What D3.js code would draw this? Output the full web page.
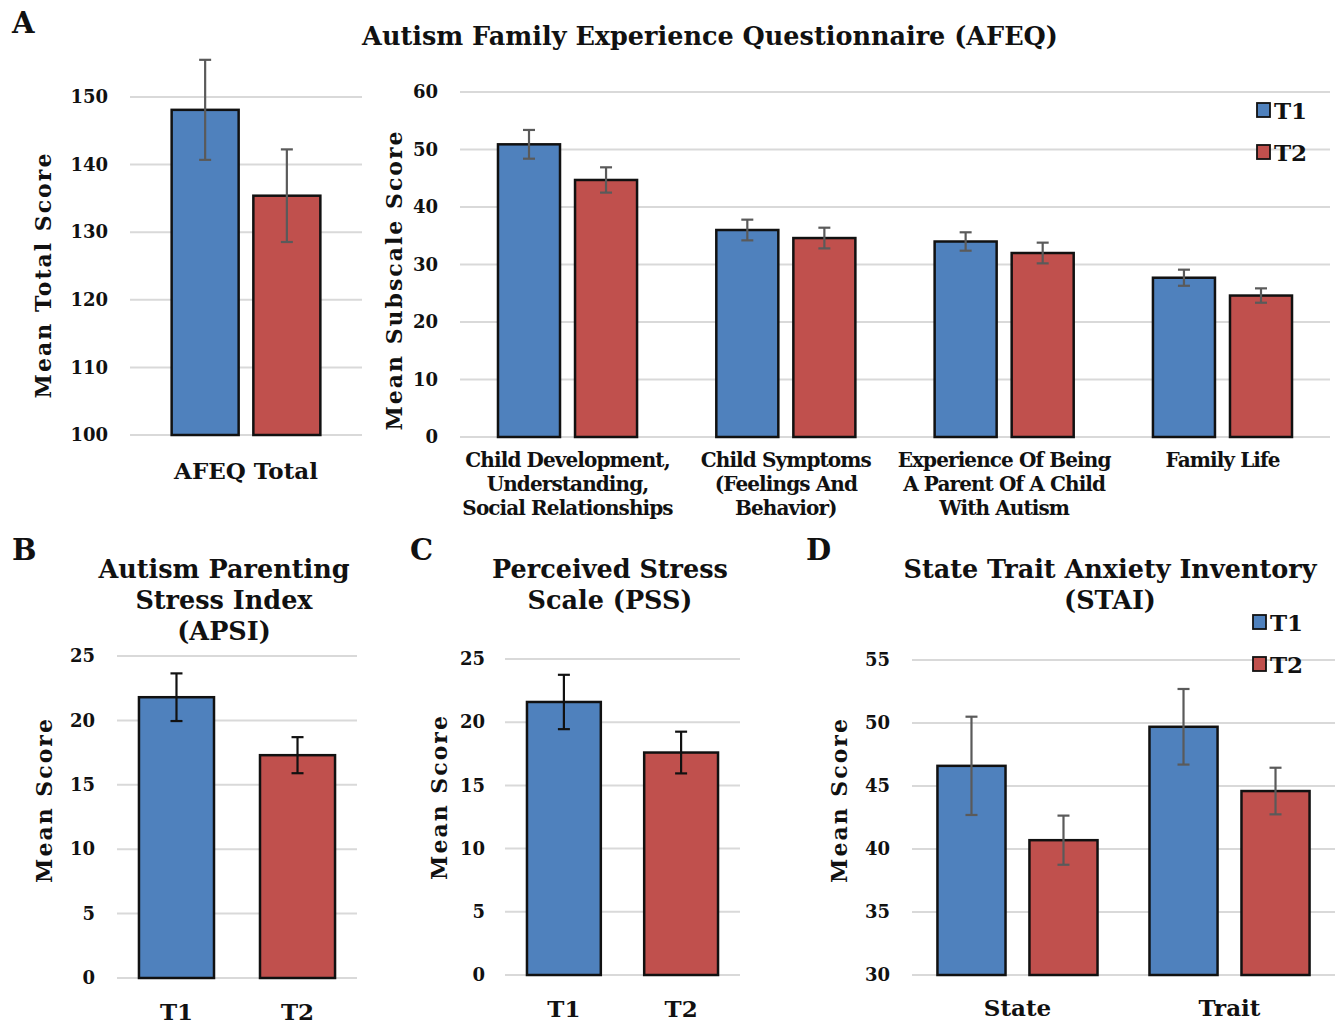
<!DOCTYPE html>
<html>
<head>
<meta charset="utf-8">
<title>AFEQ / APSI / PSS / STAI</title>
<script src="https://d3js.org/d3.v7.min.js"></script>
<style>
  body { margin: 0; background: #fff; }
  svg text { font-family: "DejaVu Serif", "Liberation Serif", serif; font-weight: bold; fill: #111; }
</style>
</head>
<body>
<div id="container"></div>
<script>
// ---------------- DATA ----------------
var series = ["T1", "T2"];

var afeqTotalCats = ["AFEQ Total"];
var afeqTotalT1 = [148.1], afeqTotalT1Err = [7.4];
var afeqTotalT2 = [135.4], afeqTotalT2Err = [6.85];
var afeqTotalTicks = [100, 110, 120, 130, 140, 150];

var afeqSubCats = [
  ["Child Development,", "Understanding,", "Social Relationships"],
  ["Child Symptoms", "(Feelings And", "Behavior)"],
  ["Experience Of Being", "A Parent Of A Child", "With Autism"],
  ["Family Life"]
];
var afeqSubT1 = [50.9, 36.0, 34.0, 27.7], afeqSubT1Err = [2.5, 1.8, 1.6, 1.4];
var afeqSubT2 = [44.7, 34.6, 32.0, 24.6], afeqSubT2Err = [2.2, 1.8, 1.8, 1.25];
var afeqSubTicks = [0, 10, 20, 30, 40, 50, 60];

var apsiValues = [21.8, 17.3], apsiErr = [1.85, 1.4];
var pssValues = [21.6, 17.6], pssErr = [2.15, 1.65];
var smallTicks = [0, 5, 10, 15, 20, 25];

var staiCats = ["State", "Trait"];
var staiT1 = [46.6, 49.7], staiT1Err = [3.9, 3.0];
var staiT2 = [40.7, 44.6], staiT2Err = [1.95, 1.85];
var staiTicks = [30, 35, 40, 45, 50, 55];

var colors = { T1: "#4f81bd", T2: "#c0504d" };

// ---------------- SVG ----------------
var svg = d3.select("#container").append("svg")
  .attr("width", 1335).attr("height", 1026);

function panel(opt) {
  var g = svg.append("g");
  var y = d3.scaleLinear().domain(opt.yDomain).range(opt.yRange);
  var x0 = d3.scaleBand().domain(d3.range(opt.groups))
    .range(opt.xRange).paddingInner(opt.padIn).paddingOuter(opt.padOut);
  var x1 = d3.scaleBand().domain(series).range([0, x0.bandwidth()]).paddingInner(opt.barPad);

  // gridlines
  g.append("g").selectAll("line").data(opt.ticks).enter().append("line")
    .attr("x1", opt.xRange[0]).attr("x2", opt.xRange[1])
    .attr("y1", function (d) { return y(d); }).attr("y2", function (d) { return y(d); })
    .attr("stroke", "#d9d9d9").attr("stroke-width", 2);

  // y axis labels
  var ax = d3.axisLeft(y).tickValues(opt.ticks).tickSize(0).tickPadding(opt.tickPad || 22);
  var axg = g.append("g").attr("transform", "translate(" + opt.xRange[0] + ",0)").call(ax);
  axg.select(".domain").remove();
  axg.selectAll("text").style("font-size", "18px").style("font-family", null);

  // bars
  g.append("g").selectAll("rect").data(opt.rows).enter().append("rect")
    .attr("x", function (d) { return x0(d.i) + x1(d.key); })
    .attr("width", x1.bandwidth())
    .attr("y", function (d) { return y(d.value); })
    .attr("height", function (d) { return y(opt.yDomain[0]) - y(d.value); })
    .attr("fill", function (d) { return colors[d.key]; })
    .attr("stroke", "#111").attr("stroke-width", 2.5);

  // error bars
  var eb = g.append("g").attr("stroke", opt.errColor).attr("stroke-width", 2.2)
    .selectAll("g").data(opt.rows).enter().append("g");
  function cx(d) { return x0(d.i) + x1(d.key) + x1.bandwidth() / 2; }
  eb.append("line")
    .attr("x1", cx).attr("x2", cx)
    .attr("y1", function (d) { return y(d.value - d.err); })
    .attr("y2", function (d) { return y(d.value + d.err); });
  [1, -1].forEach(function (s) {
    eb.append("line")
      .attr("x1", function (d) { return cx(d) - 6; })
      .attr("x2", function (d) { return cx(d) + 6; })
      .attr("y1", function (d) { return y(d.value + s * d.err); })
      .attr("y2", function (d) { return y(d.value + s * d.err); });
  });

  // x labels: per group, or per bar for single-group panels
  if (opt.cats) {
    var lab = g.append("g").selectAll("text").data(opt.cats).enter().append("text")
      .attr("text-anchor", "middle")
      .style("font-size", opt.catSize + "px")
      .style("letter-spacing", opt.catSpacing || "0px");
    lab.each(function (d, i) {
      var lines = Array.isArray(d) ? d : [d];
      var t = d3.select(this);
      lines.forEach(function (l, k) {
        t.append("tspan")
          .attr("x", x0(i) + x0.bandwidth() / 2)
          .attr("y", opt.catY + k * opt.catLine)
          .text(l);
      });
    });
  } else {
    g.append("g").selectAll("text").data(series).enter().append("text")
      .attr("text-anchor", "middle")
      .attr("x", function (s) { return x0(0) + x1(s) + x1.bandwidth() / 2; })
      .attr("y", opt.catY)
      .style("font-size", opt.catSize + "px")
      .text(function (s) { return s; });
  }

  // y title
  g.append("text")
    .attr("transform", "translate(" + opt.yTitleX + "," + opt.yTitleY + ") rotate(-90)")
    .attr("text-anchor", "middle")
    .style("font-size", "22px")
    .style("letter-spacing", "2px")
    .text(opt.yTitle);
}

function rowsPaired(t1, t1e, t2, t2e) {
  var r = [];
  t1.forEach(function (v, i) {
    r.push({ i: i, key: "T1", value: v, err: t1e[i] });
    r.push({ i: i, key: "T2", value: t2[i], err: t2e[i] });
  });
  return r;
}
function rowsSingle(vals, errs) {
  return vals.map(function (v, i) { return { i: 0, key: series[i], value: v, err: errs[i] }; });
}

function legend(x, y0, dy) {
  var lg = svg.append("g");
  series.forEach(function (s, i) {
    lg.append("rect").attr("x", x).attr("y", y0 + i * dy - 7).attr("width", 13).attr("height", 14)
      .attr("fill", colors[s]).attr("stroke", "#111").attr("stroke-width", 1.8);
    lg.append("text").attr("x", x + 17).attr("y", y0 + i * dy + 9)
      .style("font-size", "23px").text(s);
  });
}

function textLines(lines, x, y, dy, size) {
  var t = svg.append("text").attr("text-anchor", "middle").style("font-size", size + "px");
  lines.forEach(function (l, k) {
    t.append("tspan").attr("x", x).attr("y", y + k * dy).text(l);
  });
}

// ---------------- PANEL A (total) ----------------
panel({
  groups: 1, cats: afeqTotalCats,
  rows: rowsPaired(afeqTotalT1, afeqTotalT1Err, afeqTotalT2, afeqTotalT2Err),
  yDomain: [100, 150], yRange: [435, 97], ticks: afeqTotalTicks,
  xRange: [130, 362], padIn: 0, padOut: 0.28, barPad: 0.18,
  errColor: "#5a5a5a", catSize: 23, catY: 479, catLine: 0,
  yTitle: "Mean Total Score", yTitleX: 51, yTitleY: 275
});

// ---------------- PANEL A (subscales) ----------------
panel({
  groups: 4, cats: afeqSubCats,
  rows: rowsPaired(afeqSubT1, afeqSubT1Err, afeqSubT2, afeqSubT2Err),
  yDomain: [0, 60], yRange: [437, 92], ticks: afeqSubTicks,
  xRange: [460, 1330], padIn: 0.363, padOut: 0.174, barPad: 0.195,
  errColor: "#5a5a5a", catSize: 20, catSpacing: "-0.9px", catY: 467, catLine: 24,
  yTitle: "Mean Subscale Score", yTitleX: 402, yTitleY: 280
});
textLines(["Autism Family Experience Questionnaire (AFEQ)"], 710, 45, 0, 25.5);
legend(1257, 110, 42);

// ---------------- PANEL B ----------------
panel({
  groups: 1, cats: null,
  rows: rowsSingle(apsiValues, apsiErr),
  yDomain: [0, 25], yRange: [978, 656], ticks: smallTicks,
  xRange: [117, 357], padIn: 0, padOut: 0.112, barPad: 0.38,
  errColor: "#111", catSize: 23, catY: 1020,
  yTitle: "Mean Score", yTitleX: 52, yTitleY: 800
});
textLines(["Autism Parenting", "Stress Index", "(APSI)"], 224, 578, 31, 25.5);

// ---------------- PANEL C ----------------
panel({
  groups: 1, cats: null,
  rows: rowsSingle(pssValues, pssErr),
  yDomain: [0, 25], yRange: [975, 659], ticks: smallTicks,
  xRange: [505, 740], padIn: 0, padOut: 0.115, barPad: 0.37,
  errColor: "#111", catSize: 23, catY: 1017, tickPad: 20,
  yTitle: "Mean Score", yTitleX: 447, yTitleY: 797
});
textLines(["Perceived Stress", "Scale (PSS)"], 610, 578, 31, 25.5);

// ---------------- PANEL D ----------------
panel({
  groups: 2, cats: staiCats,
  rows: rowsPaired(staiT1, staiT1Err, staiT2, staiT2Err),
  yDomain: [30, 55], yRange: [975, 660], ticks: staiTicks,
  xRange: [912, 1335], padIn: 0.245, padOut: 0.12, barPad: 0.26,
  errColor: "#5a5a5a", catSize: 23, catY: 1016, catLine: 0,
  yTitle: "Mean Score", yTitleX: 847, yTitleY: 800
});
textLines(["State Trait Anxiety Inventory", "(STAI)"], 1110, 578, 31, 25.5);
legend(1253, 622, 42);

// panel letters
[["A", 12, 33], ["B", 12, 560], ["C", 410, 560], ["D", 806, 560]].forEach(function (l) {
  svg.append("text").attr("x", l[1]).attr("y", l[2]).style("font-size", "29px").text(l[0]);
});
</script>
</body>
</html>
